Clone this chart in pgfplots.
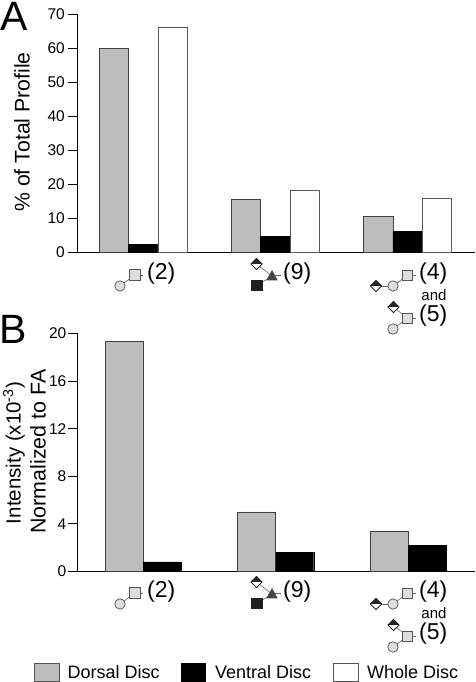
\documentclass[border=0pt]{standalone}
\usepackage{fontspec}
\setmainfont{Liberation Sans}
\usepackage{pgfplots}
\pgfplotsset{compat=1.18}
\definecolor{dorsal}{HTML}{BDBDBD}
\definecolor{edgeg}{HTML}{555555}
\definecolor{icong}{HTML}{DDDDDD}
\definecolor{linkg}{HTML}{666666}
\pgfplotsset{panel/.style={
  scale only axis, anchor=south west, clip=false,
  width=397.5pt, xmin=77.5, xmax=475, ymin=0,
  axis y line=left, axis x line=bottom,
  x axis line style={-}, y axis line style={-},
  axis line style={line width=0.9pt,black},
  xtick=\empty, ytick align=outside, major tick length=9.5pt,
  every tick/.style={line width=0.9pt,black},
  /pgf/number format/assume math mode=true,
  yticklabel style={font=\fontsize{15.5}{17}\selectfont, inner sep=1.5pt},
}}
\newcommand{\Link}[2]{\draw[linkg,line width=0.6pt] #1 -- #2;}
\newcommand{\Sq}[1]{\draw[edgeg,line width=0.7pt,fill=icong] #1 ++(-5.3,-5.3) rectangle ++(10.6,10.6);}
\newcommand{\Ci}[1]{\draw[edgeg,line width=0.7pt,fill=icong] #1 circle (5.2);}
\newcommand{\Di}[1]{%
  \draw[black,line width=0.7pt,fill=white] #1 ++(-5.6,0) -- ++(5.6,-5.6) -- ++(5.6,5.6) -- ++(-5.6,5.6) -- cycle;
  \fill[black!85] #1 ++(-5.6,0) -- ++(5.6,-5.6) -- ++(5.6,5.6) -- cycle;}
\newcommand{\IconRow}{%
  % (2)
  \Link{(120,286)}{(134.7,275)}\Link{(134.7,275)}{(143,275)}
  \Ci{(120,286)}\Sq{(134.7,275)}
  \node[anchor=west,inner sep=0pt,font=\fontsize{23}{25}\selectfont] at (147,274) {(2)};
  % (9)
  \Link{(256.5,264)}{(272,276)}\Link{(257,285.5)}{(272,276)}\Link{(272,275)}{(281,275)}
  \Di{(256.5,264)}
  \fill[edgeg!80!black] (266.2,280.5) -- (272,270) -- (277.8,280.5) -- cycle;
  \fill[black!88] (251.3,280) rectangle (262.7,291);
  \node[anchor=west,inner sep=0pt,font=\fontsize{23}{25}\selectfont] at (283,274) {(9)};
  % (4)
  \Link{(376,286)}{(393,286)}\Link{(393,286)}{(407.3,275.3)}\Link{(407.3,275.3)}{(416,275.3)}
  \Di{(376,286)}\Ci{(393,286)}\Sq{(407.3,275.3)}
  \node[anchor=west,inner sep=0pt,font=\fontsize{23}{25}\selectfont] at (419,274) {(4)};
  \node[inner sep=0pt,font=\fontsize{15}{17}\selectfont] at (434,295) {and};
  % (5)
  \Link{(393.5,307)}{(407.3,318.3)}\Link{(393,329)}{(407.3,318.3)}\Link{(407.3,318.3)}{(416,318.3)}
  \Di{(393.5,307)}\Ci{(393,329)}\Sq{(407.3,318.3)}
  \node[anchor=west,inner sep=0pt,font=\fontsize{23}{25}\selectfont] at (419,316) {(5)};
}
\begin{document}
\begin{tikzpicture}[x=1pt,y=1pt]
\useasboundingbox (0,0) rectangle (475,682);
% Panel A
\begin{axis}[panel, at={(0pt,429.5pt)}, xshift=77.5pt, height=238pt, ymax=70,
  ytick={0,10,20,30,40,50,60,70}, yticklabel style={xshift=-1.5pt}]
\addplot[ybar, bar width=29.4pt, bar shift=-29.4pt, draw=black!75, line width=0.7pt, fill=dorsal]
  coordinates {(143.2,60) (275.3,15.5) (407.6,10.6)};
\addplot[ybar, bar width=29.4pt, bar shift=0pt, draw=black, fill=black]
  coordinates {(143.2,2.3) (275.3,4.8) (407.6,6.3)};
\addplot[ybar, bar width=29.4pt, bar shift=29.4pt, draw=black!65, line width=0.7pt, fill=white]
  coordinates {(143.2,66.2) (275.3,18.3) (407.6,15.8)};
\end{axis}
% Panel B
\begin{axis}[panel, at={(0pt,110.5pt)}, xshift=77.5pt, height=238pt, ymax=20,
  ytick={0,4,8,12,16,20}]
\addplot[ybar, bar width=38pt, bar shift=-19pt, draw=black!75, line width=0.7pt, fill=dorsal]
  coordinates {(143.3,19.3) (275.7,5.0) (408,3.4)};
\addplot[ybar, bar width=38pt, bar shift=19pt, draw=black, fill=black]
  coordinates {(143.3,0.8) (275.7,1.6) (408,2.2)};
\end{axis}
\begin{scope}[x=1pt,y=-1pt,shift={(0,-682)}]
  \node[inner sep=0pt,font=\fontsize{41}{44}\selectfont] at (14,16) {A};
  \node[inner sep=0pt,font=\fontsize{41}{44}\selectfont] at (13,329) {B};
  \node[rotate=90,inner sep=0pt,font=\fontsize{21.2}{24}\selectfont] at (22,132) {\% of Total Profile};
  \node[rotate=90,inner sep=0pt,font=\fontsize{20.5}{24}\selectfont] at (14,453)
    {Intensity (x10\textsuperscript{-3})};
  \node[rotate=90,inner sep=0pt,font=\fontsize{21.4}{24}\selectfont] at (38,451.5)
    {Normalized to FA};
  \IconRow
  \begin{scope}[shift={(0,318)}]\IconRow\end{scope}
  % legend
  \draw[edgeg,line width=0.8pt,fill=dorsal] (34,663) rectangle (59,681);
  \draw[black,line width=0.8pt,fill=black] (181,663) rectangle (205.5,681);
  \draw[edgeg,line width=0.8pt,fill=white] (333.5,663) rectangle (358,681);
  \node[anchor=west,inner sep=0pt,font=\fontsize{18}{20}\selectfont] at (67.5,672.5) {Dorsal Disc};
  \node[anchor=west,inner sep=0pt,font=\fontsize{18}{20}\selectfont] at (215,672.5) {Ventral Disc};
  \node[anchor=west,inner sep=0pt,font=\fontsize{18}{20}\selectfont] at (367,672.5) {Whole Disc};
\end{scope}
\end{tikzpicture}
\end{document}
